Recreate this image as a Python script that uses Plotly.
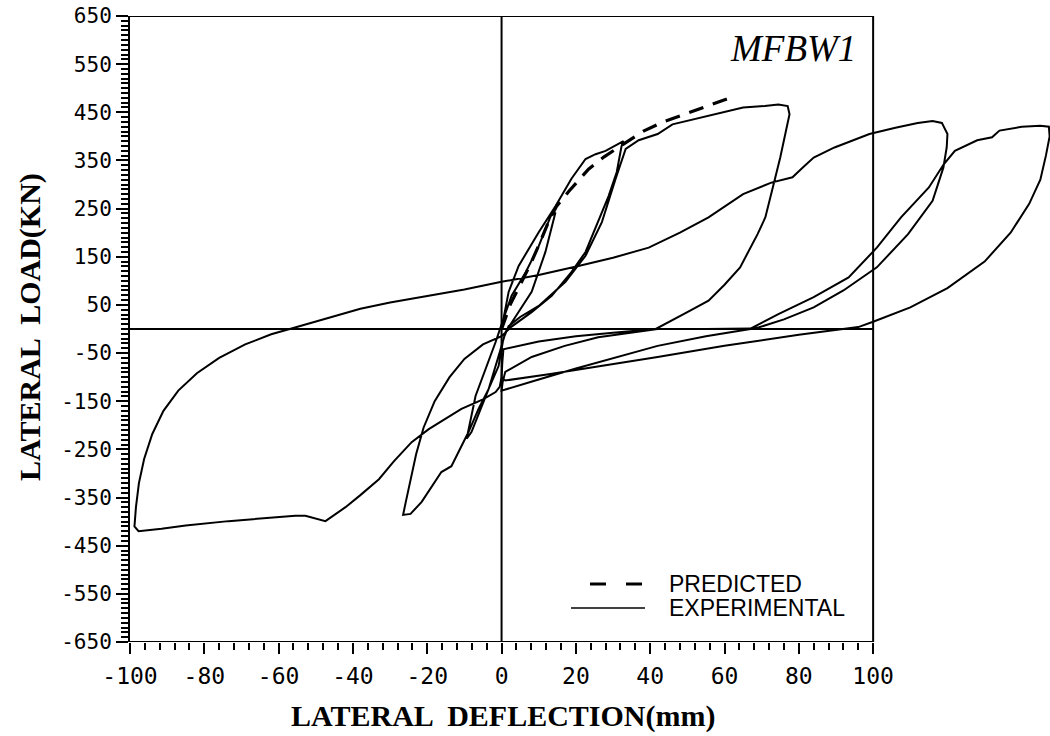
import plotly.graph_objects as go

# ---------------- data ----------------
pred_x = [0, 2.4, 5.1, 7.8, 10.2, 12.7, 14.8, 18.0, 23.4, 27.5, 32.8, 38.2, 43.5, 50.3, 55.7, 61.5]
pred_y = [0, 52, 93, 135, 177, 224, 255, 285, 332, 357, 384, 411, 430, 449, 465, 480]

# small cycle (+13 mm / -9 mm)
cyc1_x = [0, 0.5, 2.7, 6.5, 10, 13.2, 14.5, 11.8, 8.1, 4.6, 1.1, -0.8, -3.5, -8.1, -9.4, -7.0, -4.3, -1.6, 0.5]
cyc1_y = [0, 21, 69, 118, 172, 234, 242, 160, 77, 35, -6, -56, -125, -214, -228, -139, -83, -27, 21]

# cycle +33 mm / -27 mm
cyc2_x = [1.9, 4.6, 10, 14.5, 18.8, 22.6, 25.3, 28, 31.5, 32.8,
          32.3, 31, 28.8, 26, 22.6, 18.8, 13.5, 8.1, 2.7, 0, -5, -10, -14, -18, -21, -23, -24.5, -25.8, -26.5,
          -24.5, -21.5, -16.2, -13.5, -10.8, -8.9, -6.2, -3.5, -0.8, 0.5, 1.9]
cyc2_y = [77, 131, 201, 255, 312, 353, 363, 370, 384, 390,
          380, 326, 276, 222, 160, 118, 69, 35, 5, -15, -32, -62, -100, -150, -205, -260, -310, -360, -386,
          -384, -359, -297, -285, -243, -214, -166, -125, -77, -20, 6]

# cycle +78 mm / -100 mm
cyc3_x = [5, 10, 17.2, 22.6, 27, 30.7, 33.4, 36.9, 42, 46, 55.7, 65, 70.8, 74.5, 77, 77.5,
          76.5, 75, 73, 71, 68.9, 64.2, 60, 55.7, 50, 45, 41.5, 30, 20, 10, 0.5, 0.2, 0, -0.5, -1.6, -5,
          -10.8, -19.6, -24.2, -29, -33, -38, -42, -47.4, -52.8, -55.5, -65, -73.5, -85, -91.5, -97.7, -98.8]
cyc3_y = [25, 48, 98, 152, 222, 312, 374, 392, 405, 425, 443, 460, 463, 466, 463, 446,
          410, 356, 294, 232, 197, 128, 92, 59, 35, 14, 0, -8, -15, -26, -42, -70, -100, -120, -131, -146,
          -166, -208, -235, -275, -312, -345, -370, -399, -388, -388, -393, -399, -408, -415, -420, -410]

# reloading to +120 mm, unloading and return to 0 mm
cyc4_x = [-98.4, -97.6, -96.2, -94, -91, -87, -82, -76, -69, -62, -57, -48, -38, -30, -20, -10, 0, 10, 20.7,
          30, 39.6, 48, 55.7, 65, 72.6, 78.3, 81, 84, 89.6, 99, 106, 112, 116, 118.5, 120,
          119.8, 118.9, 116, 109.4, 101, 92, 84, 76, 69.3, 67, 55, 42, 30, 20, 10, 0,
          0.3, 1, 8.1, 17, 26, 42, 55, 67]
cyc4_y = [-370, -320, -270, -218, -170, -128, -92, -60, -32, -11, 0, 20, 42, 55, 69, 82, 98, 112, 131,
          148, 169, 200, 232, 280, 304, 315, 335, 356, 377, 405, 418, 428, 432, 428, 405,
          377, 335, 266, 197, 128, 80, 45, 20, 3.5, 0, -15, -35, -60, -82, -105, -128,
          -110, -89, -58, -35, -17, 0, 0, 1]

# loading to +147 mm and final unloading
cyc5_x = [74.5, 84, 93.4, 101, 107.5, 115, 119, 122, 128, 132, 134, 140, 145, 147.3,
          147.5, 146.5, 145, 142, 137, 130, 120, 110, 100, 96, 80, 60, 42, 26, 12.7, 1, 0]
cyc5_y = [31, 66, 107, 169, 232, 294, 342, 370, 392, 398, 412, 420, 422, 420,
          400, 360, 310, 260, 200, 140, 85, 45, 15, 4, -12, -35, -58, -78, -94, -107, -100]

exp_x = cyc1_x + cyc2_x + cyc3_x + cyc4_x + cyc5_x
exp_y = cyc1_y + cyc2_y + cyc3_y + cyc4_y + cyc5_y

y_ticks = list(range(-650, 651, 100))
y_ticktext = [str(v) for v in y_ticks]
x_ticks = list(range(-100, 101, 20))
x_ticktext = [str(v) for v in x_ticks]
x_minor = list(range(-100, 101, 4))
y_minor = list(range(-650, 651, 10))

legend_labels = ["PREDICTED", "EXPERIMENTAL"]

# ---------------- figure ----------------
W, H = 1050, 736
ML, MR, MT, MB = 130, 0, 16, 94
PW, PH = W - ML - MR, H - MT - MB


def px(xpix):
    return (xpix - ML) / PW


def py(ypix):
    return (H - MB - ypix) / PH


fig = go.Figure()
fig.add_trace(go.Scatter(x=pred_x, y=pred_y, mode="lines", name=legend_labels[0], showlegend=False,
                         line=dict(color="black", width=3.2, dash="15px,10px")))
fig.add_trace(go.Scatter(x=exp_x, y=exp_y, mode="lines", name=legend_labels[1], showlegend=False,
                         line=dict(color="black", width=2)))

XMIN, XMAX, YMIN, YMAX = -100, 100, -650, 650
frame = dict(type="line", xref="x", yref="y", line=dict(color="black", width=2), layer="below")
for (x0, y0, x1, y1) in [(XMIN, YMAX, XMAX, YMAX), (XMAX, YMIN, XMAX, YMAX), (XMIN, YMIN, XMAX, YMIN),
                         (XMIN, 0, XMAX, 0), (0, YMIN, 0, YMAX)]:
    fig.add_shape(x0=x0, y0=y0, x1=x1, y1=y1, **frame)

# legend (drawn by hand to match the plotter layout)
fig.add_shape(type="line", xref="paper", yref="paper", x0=px(590), x1=px(642), y0=py(584), y1=py(584),
              line=dict(color="black", width=3.2, dash="16px,20px"))
fig.add_shape(type="line", xref="paper", yref="paper", x0=px(571), x1=px(645), y0=py(608), y1=py(608),
              line=dict(color="black", width=1.6))

legend_font = dict(family="Liberation Sans", size=23, color="black")
annotations = [
    dict(text=legend_labels[0], xref="paper", yref="paper", x=px(667), y=py(584), xanchor="left",
         yanchor="middle", showarrow=False, font=legend_font),
    dict(text=legend_labels[1], xref="paper", yref="paper", x=px(667), y=py(608), xanchor="left",
         yanchor="middle", showarrow=False, font=legend_font),
    dict(text="LATERAL  LOAD(KN)", xref="paper", yref="paper", x=px(30), y=py(327),
         xanchor="center", yanchor="middle", textangle=-90, showarrow=False,
         font=dict(family="Liberation Serif", size=30, color="black", weight="bold")),
    dict(text="LATERAL  DEFLECTION(mm)", xref="paper", yref="paper", x=px(503), y=py(716),
         xanchor="center", yanchor="middle", showarrow=False,
         font=dict(family="Liberation Serif", size=30, color="black", weight="bold")),
    dict(text="<i>MFBW1</i>", xref="paper", yref="paper", x=px(793), y=py(49),
         xanchor="center", yanchor="middle", showarrow=False,
         font=dict(family="Liberation Serif", size=37, color="black")),
]

fig.update_layout(
    width=W, height=H,
    margin=dict(l=ML, r=MR, t=MT, b=MB),
    paper_bgcolor="white", plot_bgcolor="white",
    showlegend=False,
    xaxis=dict(range=[-100, 147.6], showgrid=False, zeroline=False, showline=False,
               tickmode="array", tickvals=x_ticks, ticktext=x_ticktext,
               ticks="outside", ticklen=11, tickwidth=2, tickcolor="black",
               ticklabelstandoff=2,
               tickfont=dict(family="DejaVu Sans Mono", size=23, color="black"),
               minor=dict(tickmode="array", tickvals=x_minor, ticks="outside", ticklen=7,
                          tickwidth=1.5, tickcolor="black")),
    yaxis=dict(range=[-650, 650], showgrid=False, zeroline=False, showline=True,
               linecolor="black", linewidth=2, mirror=False,
               tickmode="array", tickvals=y_ticks, ticktext=y_ticktext,
               ticks="outside", ticklen=12, tickwidth=2, tickcolor="black",
               tickfont=dict(family="DejaVu Sans Mono", size=21, color="black"),
               minor=dict(tickmode="array", tickvals=y_minor, ticks="outside", ticklen=7,
                          tickwidth=1.5, tickcolor="black")),
    annotations=annotations,
)

fig.write_html("out.html")
